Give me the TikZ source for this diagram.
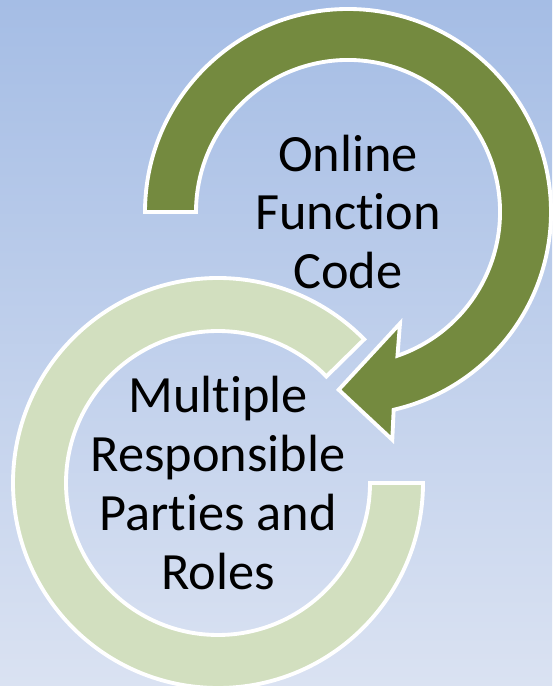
\documentclass[tikz,border=0pt]{standalone}
\usepackage{fontspec}
\setmainfont[Ligatures=NoCommon]{Carlito}
\usetikzlibrary{shapes.geometric, arrows}
\definecolor{bgtop}{RGB}{165,189,229}
\definecolor{bgbottom}{RGB}{218,226,242}
\definecolor{olivedark}{RGB}{116,138,63}
\definecolor{olivelight}{RGB}{210,223,191}
\tikzstyle{band} = [draw=white, line width=2.2pt, line join=miter]
\tikzstyle{ringtext} = [align=center, text=black, font=\fontsize{29.8}{33.5}\selectfont]

\begin{document}
\begin{tikzpicture}[x=0.02cm, y=0.02cm]
\useasboundingbox (0,0) rectangle (552,686);
\shade [top color=bgtop, bottom color=bgbottom] (0,0) rectangle (552,686);
\coordinate (code) at (348,474);
\coordinate (party) at (218,203);
% light ring, open at the upper right
\draw [band, fill=olivelight] ([shift={(party)}]0:205) arc[start angle=0, end angle=-315.5, radius=205] -- ([shift={(party)}]44.5:152) arc[start angle=44.5, end angle=360, radius=152] -- cycle;
% dark arrow turning clockwise into the light ring
\draw [band, fill=olivedark] ([shift={(code)}]180:203) arc[start angle=180, end angle=-77, radius=203] -- ([shift={(code)}]-79:232) -- ([shift={(code)}]-93:178) -- ([shift={(code)}]-65:123) -- ([shift={(code)}]-71:152) arc[start angle=-71, end angle=180, radius=152] -- cycle;
\node (codetext) [ringtext] at (code) {Online\\Function\\Code};
\node (partytext) [ringtext] at (party) {Multiple\\Responsible\\Parties and\\Roles};
\end{tikzpicture}
\end{document}
